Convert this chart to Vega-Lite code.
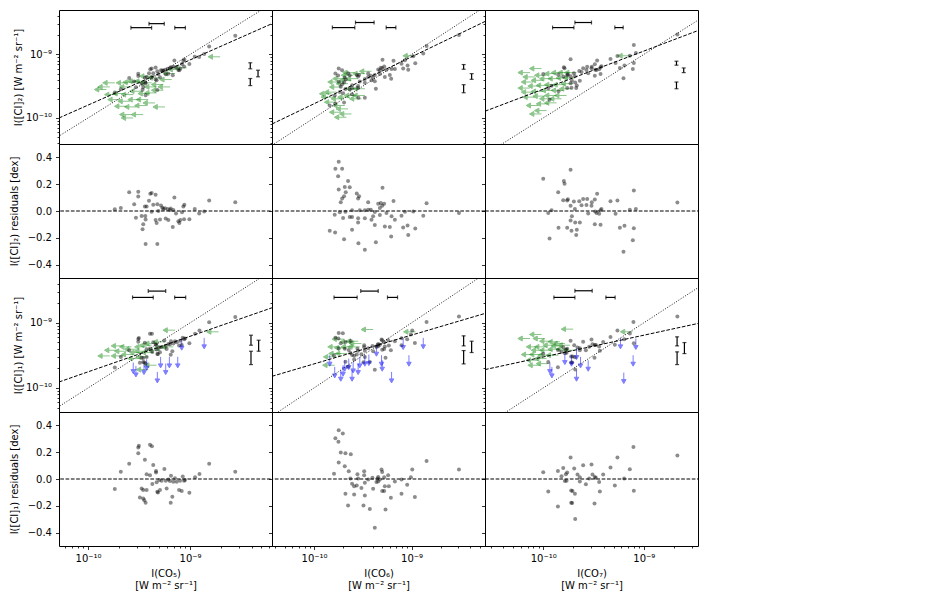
{
  "$schema": "https://vega.github.io/schema/vega-lite/v6.json",
  "background": "white",
  "padding": {"left": 8, "top": 9, "right": 0, "bottom": 0},
  "config": {
    "font": "DejaVu Sans",
    "view": {"stroke": "#000", "strokeWidth": 1},
    "axis": {"grid": false, "domain": false, "tickColor": "#000", "tickSize": 3.5, "tickWidth": 0.8, "labelColor": "#000", "labelFont": "DejaVu Sans", "labelFontSize": 10, "labelPadding": 4, "labelFlush": false, "labelOverlap": false, "titleColor": "#000", "titleFont": "DejaVu Sans", "titleFontSize": 10, "titleFontWeight": "normal"}
  },
  "datasets": {
    "one_to_one": [{"co": -11, "ci": -11}, {"co": -8, "ci": -8}],
    "zero": [{"co": -11, "res": 0}, {"co": -8, "res": 0}],
    "ci2_co5_fit": [{"co": -10.285, "ci": -10.0}, {"co": -8.197, "ci": -8.515}],
    "ci2_co6_fit": [{"co": -10.431, "ci": -10.095}, {"co": -8.247, "ci": -8.481}],
    "ci2_co7_fit": [{"co": -10.579, "ci": -9.894}, {"co": -8.461, "ci": -8.624}],
    "ci1_co5_fit": [{"co": -10.285, "ci": -9.908}, {"co": -8.197, "ci": -8.769}],
    "ci1_co6_fit": [{"co": -10.431, "ci": -9.821}, {"co": -8.247, "ci": -8.856}],
    "ci1_co7_fit": [{"co": -10.579, "ci": -9.718}, {"co": -8.461, "ci": -9.01}],
    "ci2_co5_xerr": [{"co": -9.58, "co_end": -9.377, "ci": -8.578}, {"co": -9.403, "co_end": -9.253, "ci": -8.515}, {"co": -9.15, "co_end": -9.046, "ci": -8.578}],
    "ci2_co5_yerr": [{"co": -8.41, "ci": -9.131, "ci_end": -9.226}, {"co": -8.334, "ci": -9.248, "ci_end": -9.352}, {"co": -8.41, "ci": -9.379, "ci_end": -9.49}],
    "ci2_co6_xerr": [{"co": -9.812, "co_end": -9.582, "ci": -8.577}, {"co": -9.575, "co_end": -9.384, "ci": -8.497}, {"co": -9.26, "co_end": -9.161, "ci": -8.577}],
    "ci2_co6_yerr": [{"co": -8.466, "ci": -9.159, "ci_end": -9.233}, {"co": -8.384, "ci": -9.302, "ci_end": -9.392}, {"co": -8.466, "ci": -9.476, "ci_end": -9.603}],
    "ci2_co7_xerr": [{"co": -9.907, "co_end": -9.695, "ci": -8.577}, {"co": -9.685, "co_end": -9.52, "ci": -8.497}, {"co": -9.288, "co_end": -9.205, "ci": -8.577}],
    "ci2_co7_yerr": [{"co": -8.675, "ci": -9.106, "ci_end": -9.169}, {"co": -8.603, "ci": -9.212, "ci_end": -9.286}, {"co": -8.675, "ci": -9.434, "ci_end": -9.54}],
    "ci1_co5_xerr": [{"co": -9.564, "co_end": -9.361, "ci": -8.61}, {"co": -9.41, "co_end": -9.239, "ci": -8.513}, {"co": -9.151, "co_end": -9.043, "ci": -8.61}],
    "ci1_co5_yerr": [{"co": -8.403, "ci": -9.19, "ci_end": -9.344}, {"co": -8.328, "ci": -9.267, "ci_end": -9.436}, {"co": -8.403, "ci": -9.436, "ci_end": -9.641}],
    "ci1_co6_xerr": [{"co": -9.795, "co_end": -9.558, "ci": -8.61}, {"co": -9.521, "co_end": -9.342, "ci": -8.513}, {"co": -9.247, "co_end": -9.144, "ci": -8.61}],
    "ci1_co6_yerr": [{"co": -8.466, "ci": -9.2, "ci_end": -9.354}, {"co": -8.384, "ci": -9.282, "ci_end": -9.456}, {"co": -8.466, "ci": -9.426, "ci_end": -9.631}],
    "ci1_co7_xerr": [{"co": -9.894, "co_end": -9.685, "ci": -8.61}, {"co": -9.685, "co_end": -9.513, "ci": -8.508}, {"co": -9.377, "co_end": -9.285, "ci": -8.61}],
    "ci1_co7_yerr": [{"co": -8.669, "ci": -9.215, "ci_end": -9.354}, {"co": -8.596, "ci": -9.303, "ci_end": -9.472}, {"co": -8.669, "ci": -9.446, "ci_end": -9.641}],
    "ci2_co5_det": [{"co":-9.738,"ci":-9.598},{"co":-9.679,"ci":-9.546},{"co":-9.597,"ci":-9.371},{"co":-9.548,"ci":-9.425},{"co":-9.531,"ci":-9.515},{"co":-9.508,"ci":-9.303},{"co":-9.508,"ci":-9.338},{"co":-9.475,"ci":-9.462},{"co":-9.466,"ci":-9.554},{"co":-9.459,"ci":-9.511},{"co":-9.443,"ci":-9.368},{"co":-9.439,"ci":-9.436},{"co":-9.436,"ci":-9.459},{"co":-9.436,"ci":-9.642},{"co":-9.426,"ci":-9.356},{"co":-9.403,"ci":-9.297},{"co":-9.39,"ci":-9.234},{"co":-9.377,"ci":-9.22},{"co":-9.377,"ci":-9.359},{"co":-9.361,"ci":-9.297},{"co":-9.338,"ci":-9.204},{"co":-9.338,"ci":-9.394},{"co":-9.328,"ci":-9.408},{"co":-9.321,"ci":-9.263},{"co":-9.321,"ci":-9.56},{"co":-9.311,"ci":-9.307},{"co":-9.295,"ci":-9.359},{"co":-9.285,"ci":-9.248},{"co":-9.272,"ci":-9.254},{"co":-9.262,"ci":-9.257},{"co":-9.246,"ci":-9.241},{"co":-9.239,"ci":-9.312},{"co":-9.22,"ci":-9.227},{"co":-9.213,"ci":-9.305},{"co":-9.197,"ci":-9.218},{"co":-9.19,"ci":-9.203},{"co":-9.17,"ci":-9.326},{"co":-9.164,"ci":-9.195},{"co":-9.154,"ci":-9.094},{"co":-9.138,"ci":-9.202},{"co":-9.115,"ci":-9.244},{"co":-9.105,"ci":-9.25},{"co":-9.095,"ci":-9.222},{"co":-9.079,"ci":-9.152},{"co":-9.066,"ci":-9.1},{"co":-9.059,"ci":-9.189},{"co":-9.056,"ci":-9.08},{"co":-9.007,"ci":-9.152},{"co":-8.954,"ci":-9.038},{"co":-8.911,"ci":-9.041},{"co":-8.862,"ci":-8.991},{"co":-8.813,"ci":-8.875},{"co":-8.557,"ci":-8.705}],
    "ci2_co5_res": [{"co":-9.738,"res":0.013},{"co":-9.679,"res":0.023},{"co":-9.597,"res":0.139},{"co":-9.548,"res":0.051},{"co":-9.531,"res":-0.051},{"co":-9.508,"res":0.144},{"co":-9.508,"res":0.109},{"co":-9.475,"res":-0.038},{"co":-9.466,"res":-0.137},{"co":-9.459,"res":-0.099},{"co":-9.443,"res":0.033},{"co":-9.439,"res":-0.038},{"co":-9.436,"res":-0.063},{"co":-9.436,"res":-0.246},{"co":-9.426,"res":0.033},{"co":-9.403,"res":0.076},{"co":-9.39,"res":0.129},{"co":-9.377,"res":0.134},{"co":-9.377,"res":-0.005},{"co":-9.361,"res":0.046},{"co":-9.338,"res":0.122},{"co":-9.338,"res":-0.068},{"co":-9.328,"res":-0.089},{"co":-9.321,"res":0.051},{"co":-9.321,"res":-0.246},{"co":-9.311,"res":0},{"co":-9.295,"res":-0.063},{"co":-9.285,"res":0.041},{"co":-9.272,"res":0.025},{"co":-9.262,"res":0.015},{"co":-9.246,"res":0.02},{"co":-9.239,"res":-0.056},{"co":-9.22,"res":0.015},{"co":-9.213,"res":-0.068},{"co":-9.197,"res":0.008},{"co":-9.19,"res":0.018},{"co":-9.17,"res":-0.119},{"co":-9.164,"res":0.008},{"co":-9.154,"res":0.101},{"co":-9.138,"res":-0.018},{"co":-9.115,"res":-0.076},{"co":-9.105,"res":-0.089},{"co":-9.095,"res":-0.068},{"co":-9.079,"res":-0.01},{"co":-9.066,"res":0.033},{"co":-9.059,"res":-0.061},{"co":-9.056,"res":0.046},{"co":-9.007,"res":-0.061},{"co":-8.954,"res":0.015},{"co":-8.911,"res":-0.018},{"co":-8.862,"res":-0.003},{"co":-8.813,"res":0.078},{"co":-8.557,"res":0.066}],
    "ci2_co5_xlim": [{"co":-9.82,"ci":-9.553},{"co":-9.738,"ci":-9.447},{"co":-9.607,"ci":-9.447},{"co":-9.574,"ci":-9.511},{"co":-9.541,"ci":-9.437},{"co":-9.492,"ci":-9.421},{"co":-9.426,"ci":-9.421},{"co":-9.377,"ci":-9.447},{"co":-9.328,"ci":-9.511},{"co":-9.262,"ci":-9.474},{"co":-9.197,"ci":-9.511},{"co":-9.18,"ci":-9.395},{"co":-9.148,"ci":-9.3},{"co":-9.721,"ci":-9.632},{"co":-9.639,"ci":-9.616},{"co":-9.557,"ci":-9.632},{"co":-9.475,"ci":-9.579},{"co":-9.393,"ci":-9.616},{"co":-9.328,"ci":-9.605},{"co":-9.262,"ci":-9.563},{"co":-9.689,"ci":-9.711},{"co":-9.59,"ci":-9.737},{"co":-9.492,"ci":-9.711},{"co":-9.41,"ci":-9.711},{"co":-9.623,"ci":-9.816},{"co":-9.525,"ci":-9.826},{"co":-9.426,"ci":-9.805},{"co":-9.344,"ci":-9.763},{"co":-9.246,"ci":-9.826},{"co":-9.574,"ci":-9.947},{"co":-9.459,"ci":-9.947},{"co":-9.557,"ci":-10.0},{"co":-8.705,"ci":-9.037},{"co":-9.098,"ci":-9.237},{"co":-9.033,"ci":-9.211},{"co":-9.787,"ci":-9.511},{"co":-9.377,"ci":-9.342},{"co":-9.295,"ci":-9.368}],
    "ci2_co6_det": [{"co":-9.747,"ci":-9.221},{"co":-9.781,"ci":-9.299},{"co":-9.712,"ci":-9.248},{"co":-9.753,"ci":-9.333},{"co":-9.651,"ci":-9.295},{"co":-9.685,"ci":-9.363},{"co":-9.634,"ci":-9.327},{"co":-9.747,"ci":-9.429},{"co":-9.675,"ci":-9.396},{"co":-9.562,"ci":-9.322},{"co":-9.538,"ci":-9.325},{"co":-9.692,"ci":-9.438},{"co":-9.726,"ci":-9.509},{"co":-9.712,"ci":-9.47},{"co":-9.548,"ci":-9.349},{"co":-9.445,"ci":-9.301},{"co":-9.298,"ci":-9.084},{"co":-9.185,"ci":-9.099},{"co":-9.315,"ci":-9.21},{"co":-9.342,"ci":-9.235},{"co":-9.325,"ci":-9.254},{"co":-9.301,"ci":-9.219},{"co":-9.281,"ci":-9.19},{"co":-8.846,"ci":-8.865},{"co":-9.788,"ci":-9.647},{"co":-9.736,"ci":-9.591},{"co":-9.678,"ci":-9.543},{"co":-9.61,"ci":-9.483},{"co":-9.531,"ci":-9.424},{"co":-9.479,"ci":-9.386},{"co":-9.418,"ci":-9.336},{"co":-9.377,"ci":-9.324},{"co":-9.61,"ci":-9.533},{"co":-9.634,"ci":-9.55},{"co":-9.702,"ci":-9.609},{"co":-9.548,"ci":-9.497},{"co":-9.479,"ci":-9.446},{"co":-9.394,"ci":-9.368},{"co":-9.325,"ci":-9.307},{"co":-9.257,"ci":-9.242},{"co":-9.205,"ci":-9.228},{"co":-9.103,"ci":-9.148},{"co":-9.171,"ci":-9.228},{"co":-9.068,"ci":-9.092},{"co":-8.983,"ci":-9.027},{"co":-8.88,"ci":-8.983},{"co":-8.514,"ci":-8.693},{"co":-9.839,"ci":-9.805},{"co":-9.784,"ci":-9.776},{"co":-9.692,"ci":-9.758},{"co":-9.61,"ci":-9.628},{"co":-9.545,"ci":-9.68},{"co":-9.479,"ci":-9.681},{"co":-9.366,"ci":-9.54},{"co":-9.377,"ci":-9.421},{"co":-9.274,"ci":-9.354},{"co":-9.209,"ci":-9.381},{"co":-9.223,"ci":-9.322},{"co":-9.086,"ci":-9.223},{"co":-9.041,"ci":-9.175},{"co":-8.962,"ci":-9.139},{"co":-9.034,"ci":-9.242},{"co":-9.445,"ci":-9.356},{"co":-9.411,"ci":-9.406},{"co":-9.548,"ci":-9.527}],
    "ci2_co6_res": [{"co":-9.747,"res":0.368},{"co":-9.781,"res":0.315},{"co":-9.712,"res":0.315},{"co":-9.753,"res":0.26},{"co":-9.651,"res":0.223},{"co":-9.685,"res":0.18},{"co":-9.634,"res":0.178},{"co":-9.747,"res":0.16},{"co":-9.675,"res":0.14},{"co":-9.562,"res":0.13},{"co":-9.538,"res":0.11},{"co":-9.692,"res":0.11},{"co":-9.726,"res":0.065},{"co":-9.712,"res":0.093},{"co":-9.548,"res":0.093},{"co":-9.445,"res":0.065},{"co":-9.298,"res":0.173},{"co":-9.185,"res":0.075},{"co":-9.315,"res":0.06},{"co":-9.342,"res":0.055},{"co":-9.325,"res":0.023},{"co":-9.301,"res":0.04},{"co":-9.281,"res":0.055},{"co":-8.846,"res":0.058},{"co":-9.788,"res":-0.028},{"co":-9.736,"res":-0.01},{"co":-9.678,"res":-0.005},{"co":-9.61,"res":0.005},{"co":-9.531,"res":0.005},{"co":-9.479,"res":0.005},{"co":-9.418,"res":0.01},{"co":-9.377,"res":-0.008},{"co":-9.61,"res":-0.045},{"co":-9.634,"res":-0.045},{"co":-9.702,"res":-0.053},{"co":-9.548,"res":-0.055},{"co":-9.479,"res":-0.055},{"co":-9.394,"res":-0.04},{"co":-9.325,"res":-0.03},{"co":-9.257,"res":-0.015},{"co":-9.205,"res":-0.04},{"co":-9.103,"res":-0.035},{"co":-9.171,"res":-0.065},{"co":-9.068,"res":-0.005},{"co":-8.983,"res":-0.003},{"co":-8.88,"res":-0.035},{"co":-8.514,"res":-0.015},{"co":-9.839,"res":-0.148},{"co":-9.784,"res":-0.16},{"co":-9.692,"res":-0.21},{"co":-9.61,"res":-0.14},{"co":-9.545,"res":-0.24},{"co":-9.479,"res":-0.29},{"co":-9.366,"res":-0.233},{"co":-9.377,"res":-0.105},{"co":-9.274,"res":-0.115},{"co":-9.209,"res":-0.19},{"co":-9.223,"res":-0.12},{"co":-9.086,"res":-0.123},{"co":-9.041,"res":-0.108},{"co":-8.962,"res":-0.13},{"co":-9.034,"res":-0.18},{"co":-9.445,"res":0.01},{"co":-9.411,"res":-0.065},{"co":-9.548,"res":-0.085}],
    "ci2_co6_xlim": [{"co":-9.822,"ci":-9.619},{"co":-9.771,"ci":-9.593},{"co":-9.719,"ci":-9.513},{"co":-9.651,"ci":-9.46},{"co":-9.616,"ci":-9.407},{"co":-9.548,"ci":-9.381},{"co":-9.479,"ci":-9.302},{"co":-9.411,"ci":-9.265},{"co":-9.702,"ci":-9.698},{"co":-9.634,"ci":-9.672},{"co":-9.565,"ci":-9.646},{"co":-9.479,"ci":-9.646},{"co":-9.771,"ci":-9.751},{"co":-9.685,"ci":-9.804},{"co":-9.651,"ci":-9.857},{"co":-9.616,"ci":-9.937},{"co":-9.719,"ci":-9.91},{"co":-9.668,"ci":-9.989},{"co":-9.548,"ci":-9.54},{"co":-9.479,"ci":-9.54},{"co":-9.685,"ci":-9.381},{"co":-9.599,"ci":-9.328},{"co":-9.805,"ci":-9.672},{"co":-8.966,"ci":-9.021},{"co":-9.736,"ci":-9.434},{"co":-9.582,"ci":-9.286},{"co":-9.514,"ci":-9.698}],
    "ci2_co7_det": [{"co":-10.0,"ci":-9.307},{"co":-9.728,"ci":-9.076},{"co":-9.795,"ci":-9.201},{"co":-9.788,"ci":-9.217},{"co":-9.851,"ci":-9.318},{"co":-9.801,"ci":-9.348},{"co":-9.762,"ci":-9.326},{"co":-9.755,"ci":-9.312},{"co":-9.695,"ci":-9.294},{"co":-9.728,"ci":-9.344},{"co":-9.642,"ci":-9.259},{"co":-9.603,"ci":-9.219},{"co":-9.563,"ci":-9.195},{"co":-9.619,"ci":-9.275},{"co":-9.57,"ci":-9.244},{"co":-9.517,"ci":-9.192},{"co":-9.487,"ci":-9.154},{"co":-9.464,"ci":-9.097},{"co":-9.52,"ci":-9.219},{"co":-9.483,"ci":-9.24},{"co":-9.47,"ci":-9.244},{"co":-9.444,"ci":-9.233},{"co":-9.43,"ci":-9.2},{"co":-9.421,"ci":-9.185},{"co":-9.553,"ci":-9.297},{"co":-9.331,"ci":-9.073},{"co":-9.262,"ci":-9.026},{"co":-9.281,"ci":-9.136},{"co":-9.139,"ci":-9.02},{"co":-9.099,"ci":-8.853},{"co":-9.079,"ci":-8.979},{"co":-8.666,"ci":-8.684},{"co":-9.95,"ci":-9.532},{"co":-9.917,"ci":-9.492},{"co":-9.685,"ci":-9.343},{"co":-9.715,"ci":-9.416},{"co":-9.728,"ci":-9.454},{"co":-9.682,"ci":-9.441},{"co":-9.636,"ci":-9.414},{"co":-9.719,"ci":-9.526},{"co":-9.666,"ci":-9.487},{"co":-9.672,"ci":-9.53},{"co":-9.762,"ci":-9.529},{"co":-9.848,"ci":-9.581},{"co":-9.937,"ci":-9.714},{"co":-9.487,"ci":-9.337},{"co":-9.43,"ci":-9.308},{"co":-9.238,"ci":-9.215},{"co":-9.192,"ci":-9.172},{"co":-9.099,"ci":-9.134},{"co":-9.109,"ci":-9.23},{"co":-9.202,"ci":-9.373}],
    "ci2_co7_res": [{"co":-10.0,"res":0.24},{"co":-9.728,"res":0.308},{"co":-9.795,"res":0.223},{"co":-9.788,"res":0.203},{"co":-9.851,"res":0.14},{"co":-9.801,"res":0.08},{"co":-9.762,"res":0.078},{"co":-9.755,"res":0.088},{"co":-9.695,"res":0.07},{"co":-9.728,"res":0.04},{"co":-9.642,"res":0.073},{"co":-9.603,"res":0.09},{"co":-9.563,"res":0.09},{"co":-9.619,"res":0.043},{"co":-9.57,"res":0.045},{"co":-9.517,"res":0.065},{"co":-9.487,"res":0.085},{"co":-9.464,"res":0.128},{"co":-9.52,"res":0.04},{"co":-9.483,"res":-0.003},{"co":-9.47,"res":-0.015},{"co":-9.444,"res":-0.02},{"co":-9.43,"res":0.005},{"co":-9.421,"res":0.015},{"co":-9.553,"res":-0.018},{"co":-9.331,"res":0.073},{"co":-9.262,"res":0.078},{"co":-9.281,"res":-0.02},{"co":-9.139,"res":0.01},{"co":-9.099,"res":0.153},{"co":-9.079,"res":0.015},{"co":-8.666,"res":0.063},{"co":-9.95,"res":-0.015},{"co":-9.917,"res":0.005},{"co":-9.685,"res":0.015},{"co":-9.715,"res":-0.04},{"co":-9.728,"res":-0.07},{"co":-9.682,"res":-0.085},{"co":-9.636,"res":-0.085},{"co":-9.719,"res":-0.148},{"co":-9.666,"res":-0.14},{"co":-9.672,"res":-0.18},{"co":-9.762,"res":-0.125},{"co":-9.848,"res":-0.125},{"co":-9.937,"res":-0.205},{"co":-9.487,"res":-0.098},{"co":-9.43,"res":-0.103},{"co":-9.238,"res":-0.125},{"co":-9.192,"res":-0.11},{"co":-9.099,"res":-0.128},{"co":-9.109,"res":-0.218},{"co":-9.202,"res":-0.305}],
    "ci2_co7_xlim": [{"co":-10.132,"ci":-9.286},{"co":-10.017,"ci":-9.222},{"co":-10.083,"ci":-9.354},{"co":-9.967,"ci":-9.328},{"co":-9.868,"ci":-9.302},{"co":-9.801,"ci":-9.286},{"co":-9.735,"ci":-9.286},{"co":-9.669,"ci":-9.286},{"co":-10.099,"ci":-9.434},{"co":-10.0,"ci":-9.407},{"co":-9.917,"ci":-9.381},{"co":-9.834,"ci":-9.381},{"co":-9.752,"ci":-9.37},{"co":-9.685,"ci":-9.37},{"co":-10.132,"ci":-9.529},{"co":-10.033,"ci":-9.497},{"co":-9.95,"ci":-9.487},{"co":-9.868,"ci":-9.476},{"co":-9.785,"ci":-9.476},{"co":-9.702,"ci":-9.46},{"co":-10.099,"ci":-9.593},{"co":-10.0,"ci":-9.582},{"co":-9.901,"ci":-9.566},{"co":-9.801,"ci":-9.566},{"co":-9.719,"ci":-9.54},{"co":-10.083,"ci":-9.672},{"co":-9.983,"ci":-9.656},{"co":-9.868,"ci":-9.646},{"co":-9.768,"ci":-9.646},{"co":-10.05,"ci":-9.804},{"co":-9.95,"ci":-9.778},{"co":-9.868,"ci":-9.762},{"co":-10.017,"ci":-9.937},{"co":-9.967,"ci":-9.884},{"co":-9.139,"ci":-9.021},{"co":-9.917,"ci":-9.698},{"co":-9.818,"ci":-9.698}],
    "ci1_co5_det": [{"co":-9.738,"ci":-9.685},{"co":-9.679,"ci":-9.523},{"co":-9.597,"ci":-9.42},{"co":-9.508,"ci":-9.292},{"co":-9.508,"ci":-9.25},{"co":-9.502,"ci":-9.233},{"co":-9.393,"ci":-9.167},{"co":-9.374,"ci":-9.167},{"co":-9.443,"ci":-9.306},{"co":-9.426,"ci":-9.405},{"co":-9.393,"ci":-9.394},{"co":-9.361,"ci":-9.299},{"co":-9.334,"ci":-9.33},{"co":-9.334,"ci":-9.342},{"co":-9.252,"ci":-9.27},{"co":-9.37,"ci":-9.447},{"co":-9.328,"ci":-9.411},{"co":-9.302,"ci":-9.38},{"co":-9.279,"ci":-9.373},{"co":-9.239,"ci":-9.351},{"co":-9.213,"ci":-9.327},{"co":-9.197,"ci":-9.33},{"co":-9.187,"ci":-9.284},{"co":-9.164,"ci":-9.317},{"co":-9.148,"ci":-9.283},{"co":-9.131,"ci":-9.299},{"co":-9.098,"ci":-9.274},{"co":-9.072,"ci":-9.229},{"co":-9.059,"ci":-9.253},{"co":-9.295,"ci":-9.451},{"co":-9.23,"ci":-9.403},{"co":-9.475,"ci":-9.537},{"co":-9.459,"ci":-9.541},{"co":-9.426,"ci":-9.523},{"co":-9.459,"ci":-9.603},{"co":-9.449,"ci":-9.61},{"co":-9.436,"ci":-9.623},{"co":-9.321,"ci":-9.478},{"co":-9.315,"ci":-9.479},{"co":-9.19,"ci":-9.489},{"co":-9.174,"ci":-9.435},{"co":-9.108,"ci":-9.349},{"co":-9.082,"ci":-9.342},{"co":-9.007,"ci":-9.314},{"co":-8.951,"ci":-9.168},{"co":-8.908,"ci":-9.119},{"co":-8.813,"ci":-8.992},{"co":-8.557,"ci":-8.911},{"co":-9.049,"ci":-9.242},{"co":-9.492,"ci":-9.614}],
    "ci1_co5_res": [{"co":-9.738,"res":-0.075},{"co":-9.679,"res":0.055},{"co":-9.597,"res":0.113},{"co":-9.508,"res":0.193},{"co":-9.508,"res":0.235},{"co":-9.502,"res":0.248},{"co":-9.393,"res":0.255},{"co":-9.374,"res":0.245},{"co":-9.443,"res":0.143},{"co":-9.426,"res":0.035},{"co":-9.393,"res":0.028},{"co":-9.361,"res":0.105},{"co":-9.334,"res":0.06},{"co":-9.334,"res":0.048},{"co":-9.252,"res":0.075},{"co":-9.37,"res":-0.038},{"co":-9.328,"res":-0.025},{"co":-9.302,"res":-0.008},{"co":-9.279,"res":-0.013},{"co":-9.239,"res":-0.013},{"co":-9.213,"res":-0.003},{"co":-9.197,"res":-0.015},{"co":-9.187,"res":0.025},{"co":-9.164,"res":-0.02},{"co":-9.148,"res":0.005},{"co":-9.131,"res":-0.02},{"co":-9.098,"res":-0.013},{"co":-9.072,"res":0.018},{"co":-9.059,"res":-0.013},{"co":-9.295,"res":-0.083},{"co":-9.23,"res":-0.07},{"co":-9.475,"res":-0.07},{"co":-9.459,"res":-0.083},{"co":-9.426,"res":-0.083},{"co":-9.459,"res":-0.145},{"co":-9.449,"res":-0.158},{"co":-9.436,"res":-0.178},{"co":-9.321,"res":-0.095},{"co":-9.315,"res":-0.1},{"co":-9.19,"res":-0.178},{"co":-9.174,"res":-0.133},{"co":-9.108,"res":-0.083},{"co":-9.082,"res":-0.09},{"co":-9.007,"res":-0.103},{"co":-8.951,"res":0.013},{"co":-8.908,"res":0.038},{"co":-8.813,"res":0.113},{"co":-8.557,"res":0.055},{"co":-9.049,"res":-0.008},{"co":-9.492,"res":-0.138}],
    "ci1_co5_xlim": [{"co":-9.787,"ci":-9.508},{"co":-9.656,"ci":-9.508},{"co":-9.623,"ci":-9.436},{"co":-9.574,"ci":-9.369},{"co":-9.525,"ci":-9.405},{"co":-9.475,"ci":-9.456},{"co":-9.426,"ci":-9.369},{"co":-9.377,"ci":-9.344},{"co":-9.328,"ci":-9.318},{"co":-9.295,"ci":-9.421},{"co":-9.23,"ci":-9.385},{"co":-9.164,"ci":-9.369},{"co":-9.148,"ci":-9.113},{"co":-8.721,"ci":-9.138},{"co":-9.492,"ci":-9.549},{"co":-9.41,"ci":-9.523},{"co":-9.361,"ci":-9.456},{"co":-9.721,"ci":-9.421},{"co":-9.656,"ci":-9.354},{"co":-9.41,"ci":-9.718},{"co":-9.328,"ci":-9.651},{"co":-9.557,"ci":-9.487},{"co":-9.426,"ci":-9.436},{"co":-9.246,"ci":-9.292}],
    "ci1_co5_ylim": [{"co":-9.557,"ci":-9.61},{"co":-9.531,"ci":-9.662},{"co":-9.452,"ci":-9.626},{"co":-9.426,"ci":-9.559},{"co":-9.321,"ci":-9.754},{"co":-9.289,"ci":-9.523},{"co":-9.239,"ci":-9.626},{"co":-9.203,"ci":-9.523},{"co":-9.121,"ci":-9.523},{"co":-9.082,"ci":-9.251},{"co":-8.862,"ci":-9.231}],
    "ci1_co6_det": [{"co":-9.747,"ci":-9.156},{"co":-9.705,"ci":-9.161},{"co":-9.781,"ci":-9.229},{"co":-9.75,"ci":-9.242},{"co":-9.726,"ci":-9.312},{"co":-9.678,"ci":-9.296},{"co":-9.623,"ci":-9.279},{"co":-9.747,"ci":-9.396},{"co":-9.685,"ci":-9.397},{"co":-9.644,"ci":-9.416},{"co":-9.795,"ci":-9.5},{"co":-9.627,"ci":-9.463},{"co":-9.486,"ci":-9.346},{"co":-9.555,"ci":-9.399},{"co":-9.486,"ci":-9.376},{"co":-9.445,"ci":-9.389},{"co":-9.401,"ci":-9.356},{"co":-9.349,"ci":-9.34},{"co":-9.308,"ci":-9.255},{"co":-9.301,"ci":-9.269},{"co":-9.342,"ci":-9.325},{"co":-9.36,"ci":-9.371},{"co":-9.325,"ci":-9.336},{"co":-9.281,"ci":-9.3},{"co":-9.24,"ci":-9.267},{"co":-9.171,"ci":-9.283},{"co":-9.103,"ci":-9.238},{"co":-9.045,"ci":-9.252},{"co":-9.007,"ci":-9.179},{"co":-8.993,"ci":-9.116},{"co":-8.846,"ci":-8.986},{"co":-8.514,"ci":-8.904},{"co":-9.61,"ci":-9.494},{"co":-9.589,"ci":-9.504},{"co":-9.678,"ci":-9.599},{"co":-9.589,"ci":-9.564},{"co":-9.514,"ci":-9.484},{"co":-9.479,"ci":-9.429},{"co":-9.548,"ci":-9.428},{"co":-9.651,"ci":-9.675},{"co":-9.493,"ci":-9.605},{"co":-9.428,"ci":-9.601},{"co":-9.342,"ci":-9.358},{"co":-9.301,"ci":-9.412},{"co":-9.281,"ci":-9.403},{"co":-9.212,"ci":-9.423},{"co":-9.274,"ci":-9.365},{"co":-9.233,"ci":-9.347},{"co":-9.103,"ci":-9.345},{"co":-8.966,"ci":-9.309},{"co":-9.267,"ci":-9.535},{"co":-9.377,"ci":-9.719},{"co":-9.562,"ci":-9.485},{"co":-9.479,"ci":-9.524},{"co":-9.394,"ci":-9.436}],
    "ci1_co6_res": [{"co":-9.747,"res":0.363},{"co":-9.705,"res":0.34},{"co":-9.781,"res":0.305},{"co":-9.75,"res":0.278},{"co":-9.726,"res":0.198},{"co":-9.678,"res":0.193},{"co":-9.623,"res":0.185},{"co":-9.747,"res":0.123},{"co":-9.685,"res":0.095},{"co":-9.644,"res":0.058},{"co":-9.795,"res":0.04},{"co":-9.627,"res":0.003},{"co":-9.486,"res":0.058},{"co":-9.555,"res":0.035},{"co":-9.486,"res":0.028},{"co":-9.445,"res":-0.003},{"co":-9.401,"res":0.01},{"co":-9.349,"res":0.003},{"co":-9.308,"res":0.07},{"co":-9.301,"res":0.053},{"co":-9.342,"res":0.015},{"co":-9.36,"res":-0.023},{"co":-9.325,"res":-0.003},{"co":-9.281,"res":0.013},{"co":-9.24,"res":0.028},{"co":-9.171,"res":-0.018},{"co":-9.103,"res":-0.003},{"co":-9.045,"res":-0.043},{"co":-9.007,"res":0.013},{"co":-8.993,"res":0.07},{"co":-8.846,"res":0.135},{"co":-8.514,"res":0.07},{"co":-9.61,"res":-0.035},{"co":-9.589,"res":-0.055},{"co":-9.678,"res":-0.11},{"co":-9.589,"res":-0.115},{"co":-9.514,"res":-0.068},{"co":-9.479,"res":-0.028},{"co":-9.548,"res":0.003},{"co":-9.651,"res":-0.198},{"co":-9.493,"res":-0.198},{"co":-9.428,"res":-0.223},{"co":-9.342,"res":-0.018},{"co":-9.301,"res":-0.09},{"co":-9.281,"res":-0.09},{"co":-9.212,"res":-0.14},{"co":-9.274,"res":-0.055},{"co":-9.233,"res":-0.055},{"co":-9.103,"res":-0.11},{"co":-8.966,"res":-0.135},{"co":-9.267,"res":-0.228},{"co":-9.377,"res":-0.363},{"co":-9.562,"res":-0.048},{"co":-9.479,"res":-0.123},{"co":-9.394,"res":-0.073}],
    "ci1_co6_xlim": [{"co":-9.394,"ci":-9.103},{"co":-9.781,"ci":-9.523},{"co":-9.726,"ci":-9.472},{"co":-9.736,"ci":-9.369},{"co":-9.668,"ci":-9.385},{"co":-9.61,"ci":-9.292},{"co":-9.548,"ci":-9.282},{"co":-9.599,"ci":-9.369},{"co":-9.531,"ci":-9.369},{"co":-9.788,"ci":-9.651},{"co":-8.959,"ci":-9.138},{"co":-9.658,"ci":-9.472},{"co":-9.692,"ci":-9.251},{"co":-9.514,"ci":-9.318}],
    "ci1_co6_ylim": [{"co":-9.839,"ci":-9.497},{"co":-9.788,"ci":-9.677},{"co":-9.726,"ci":-9.728},{"co":-9.685,"ci":-9.574},{"co":-9.644,"ci":-9.549},{"co":-9.61,"ci":-9.728},{"co":-9.599,"ci":-9.6},{"co":-9.548,"ci":-9.626},{"co":-9.531,"ci":-9.523},{"co":-9.479,"ci":-9.497},{"co":-9.438,"ci":-9.487},{"co":-9.36,"ci":-9.344},{"co":-9.308,"ci":-9.497},{"co":-9.301,"ci":-9.574},{"co":-9.205,"ci":-9.754},{"co":-9.086,"ci":-9.241},{"co":-9.027,"ci":-9.497},{"co":-8.88,"ci":-9.231},{"co":-9.702,"ci":-9.651}],
    "ci1_co7_det": [{"co":-10.0,"ci":-9.475},{"co":-9.95,"ci":-9.601},{"co":-9.854,"ci":-9.681},{"co":-9.854,"ci":-9.416},{"co":-9.801,"ci":-9.376},{"co":-9.818,"ci":-9.444},{"co":-9.775,"ci":-9.415},{"co":-9.762,"ci":-9.398},{"co":-9.785,"ci":-9.468},{"co":-9.728,"ci":-9.274},{"co":-9.722,"ci":-9.517},{"co":-9.722,"ci":-9.61},{"co":-9.712,"ci":-9.609},{"co":-9.692,"ci":-9.344},{"co":-9.685,"ci":-9.53},{"co":-9.659,"ci":-9.378},{"co":-9.636,"ci":-9.421},{"co":-9.603,"ci":-9.289},{"co":-9.576,"ci":-9.423},{"co":-9.52,"ci":-9.257},{"co":-9.51,"ci":-9.328},{"co":-9.487,"ci":-9.339},{"co":-9.477,"ci":-9.34},{"co":-9.444,"ci":-9.362},{"co":-9.437,"ci":-9.43},{"co":-9.49,"ci":-9.538},{"co":-9.404,"ci":-9.293},{"co":-9.331,"ci":-9.217},{"co":-9.288,"ci":-9.335},{"co":-9.262,"ci":-9.119},{"co":-9.195,"ci":-9.253},{"co":-9.139,"ci":-9.164},{"co":-9.103,"ci":-8.987},{"co":-9.099,"ci":-9.312},{"co":-8.666,"ci":-8.904},{"co":-9.682,"ci":-9.717},{"co":-9.768,"ci":-9.461},{"co":-9.709,"ci":-9.518},{"co":-9.636,"ci":-9.39},{"co":-9.543,"ci":-9.369}],
    "ci1_co7_res": [{"co":-10.0,"res":0.05},{"co":-9.95,"res":-0.093},{"co":-9.854,"res":-0.205},{"co":-9.854,"res":0.06},{"co":-9.801,"res":0.083},{"co":-9.818,"res":0.02},{"co":-9.775,"res":0.035},{"co":-9.762,"res":0.048},{"co":-9.785,"res":-0.015},{"co":-9.728,"res":0.16},{"co":-9.722,"res":-0.085},{"co":-9.722,"res":-0.178},{"co":-9.712,"res":-0.18},{"co":-9.692,"res":0.078},{"co":-9.685,"res":-0.11},{"co":-9.659,"res":0.033},{"co":-9.636,"res":-0.018},{"co":-9.603,"res":0.103},{"co":-9.576,"res":-0.04},{"co":-9.52,"res":0.108},{"co":-9.51,"res":0.033},{"co":-9.487,"res":0.015},{"co":-9.477,"res":0.01},{"co":-9.444,"res":-0.023},{"co":-9.437,"res":-0.093},{"co":-9.49,"res":-0.183},{"co":-9.404,"res":0.033},{"co":-9.331,"res":0.085},{"co":-9.288,"res":-0.048},{"co":-9.262,"res":0.16},{"co":-9.195,"res":0.003},{"co":-9.139,"res":0.073},{"co":-9.103,"res":0.238},{"co":-9.099,"res":-0.088},{"co":-8.666,"res":0.175},{"co":-9.682,"res":-0.298},{"co":-9.768,"res":-0.013},{"co":-9.709,"res":-0.09},{"co":-9.636,"res":0.013},{"co":-9.543,"res":0.003}],
    "ci1_co7_xlim": [{"co":-10.132,"ci":-9.241},{"co":-10.017,"ci":-9.179},{"co":-9.983,"ci":-9.241},{"co":-9.917,"ci":-9.282},{"co":-9.834,"ci":-9.292},{"co":-9.785,"ci":-9.318},{"co":-10.05,"ci":-9.369},{"co":-9.967,"ci":-9.369},{"co":-9.884,"ci":-9.344},{"co":-9.801,"ci":-9.354},{"co":-9.735,"ci":-9.344},{"co":-10.0,"ci":-9.421},{"co":-9.917,"ci":-9.421},{"co":-9.834,"ci":-9.405},{"co":-9.752,"ci":-9.405},{"co":-10.099,"ci":-9.487},{"co":-10.017,"ci":-9.487},{"co":-9.934,"ci":-9.497},{"co":-9.851,"ci":-9.497},{"co":-10.05,"ci":-9.574},{"co":-9.967,"ci":-9.549},{"co":-10.033,"ci":-9.651},{"co":-9.702,"ci":-9.097},{"co":-9.113,"ci":-9.138},{"co":-9.95,"ci":-9.626},{"co":-9.685,"ci":-9.421}],
    "ci1_co7_ylim": [{"co":-9.934,"ci":-9.61},{"co":-9.914,"ci":-9.677},{"co":-9.785,"ci":-9.472},{"co":-9.719,"ci":-9.497},{"co":-9.669,"ci":-9.395},{"co":-9.669,"ci":-9.728},{"co":-9.629,"ci":-9.523},{"co":-9.553,"ci":-9.574},{"co":-9.232,"ci":-9.231},{"co":-9.199,"ci":-9.764},{"co":-9.106,"ci":-9.497},{"co":-9.079,"ci":-9.241}]
  },
  "columns": 3,
  "spacing": 0,
  "bounds": "flush",
  "concat": [
    {
      "width": 213, "height": 134,
      "encoding": {
        "x": {"field": "co", "type": "quantitative", "scale": {"domain": [-10.285, -8.197], "nice": false, "zero": false}, "axis": null},
        "y": {"field": "ci", "type": "quantitative", "scale": {"domain": [-10.41, -8.3], "nice": false, "zero": false}, "axis": {"values": [-10.3979,-10.301,-10.2218,-10.1549,-10.0969,-10.0458,-10,-9.699,-9.5229,-9.3979,-9.301,-9.2218,-9.1549,-9.0969,-9.0458,-9,-8.699,-8.5229,-8.3979], "labelExpr": "datum.value == -10 ? '10⁻¹⁰' : datum.value == -9 ? '10⁻⁹' : ''", "tickSize": {"condition": {"test": "datum.value == -10 || datum.value == -9", "value": 3.5}, "value": 2}, "title": "I([CI]₂) [W m⁻² sr⁻¹]", "titlePadding": 2}}
      },
      "layer": [
        {"data": {"name": "ci2_co5_xlim"}, "mark": {"type": "point", "shape": "M0,0H-1.6M-2.2,0L-1.4,-0.45L-1.4,0.45Z", "filled": true, "size": 120, "fill": "#008000", "stroke": "#008000", "strokeWidth": 1, "opacity": 0.45}},
        {"data": {"name": "ci2_co5_det"}, "mark": {"type": "circle", "size": 16, "color": "#000", "opacity": 0.45}},
        {"data": {"name": "ci2_co5_fit"}, "mark": {"type": "line", "color": "#000", "strokeWidth": 1, "strokeDash": [3.7, 1.6], "clip": true}},
        {"data": {"name": "one_to_one"}, "mark": {"type": "line", "color": "#000", "strokeWidth": 0.9, "strokeDash": [1, 1.65], "clip": true}},
        {"data": {"name": "ci2_co5_xerr"}, "mark": {"type": "errorbar", "ticks": {"size": 4}, "color": "#000", "thickness": 1.2}, "encoding": {"x2": {"field": "co_end"}}},
        {"data": {"name": "ci2_co5_yerr"}, "mark": {"type": "errorbar", "ticks": {"size": 4}, "color": "#000", "thickness": 1.2}, "encoding": {"y2": {"field": "ci_end"}}}
      ]
    },
    {
      "width": 213, "height": 134,
      "encoding": {
        "x": {"field": "co", "type": "quantitative", "scale": {"domain": [-10.431, -8.247], "nice": false, "zero": false}, "axis": null},
        "y": {"field": "ci", "type": "quantitative", "scale": {"domain": [-10.41, -8.3], "nice": false, "zero": false}, "axis": {"values": [-10.3979,-10.301,-10.2218,-10.1549,-10.0969,-10.0458,-10,-9.699,-9.5229,-9.3979,-9.301,-9.2218,-9.1549,-9.0969,-9.0458,-9,-8.699,-8.5229,-8.3979], "labels": false, "tickSize": {"condition": {"test": "datum.value == -10 || datum.value == -9", "value": 3.5}, "value": 2}, "title": null}}
      },
      "layer": [
        {"data": {"name": "ci2_co6_xlim"}, "mark": {"type": "point", "shape": "M0,0H-1.6M-2.2,0L-1.4,-0.45L-1.4,0.45Z", "filled": true, "size": 120, "fill": "#008000", "stroke": "#008000", "strokeWidth": 1, "opacity": 0.45}},
        {"data": {"name": "ci2_co6_det"}, "mark": {"type": "circle", "size": 16, "color": "#000", "opacity": 0.45}},
        {"data": {"name": "ci2_co6_fit"}, "mark": {"type": "line", "color": "#000", "strokeWidth": 1, "strokeDash": [3.7, 1.6], "clip": true}},
        {"data": {"name": "one_to_one"}, "mark": {"type": "line", "color": "#000", "strokeWidth": 0.9, "strokeDash": [1, 1.65], "clip": true}},
        {"data": {"name": "ci2_co6_xerr"}, "mark": {"type": "errorbar", "ticks": {"size": 4}, "color": "#000", "thickness": 1.2}, "encoding": {"x2": {"field": "co_end"}}},
        {"data": {"name": "ci2_co6_yerr"}, "mark": {"type": "errorbar", "ticks": {"size": 4}, "color": "#000", "thickness": 1.2}, "encoding": {"y2": {"field": "ci_end"}}}
      ]
    },
    {
      "width": 213, "height": 134,
      "encoding": {
        "x": {"field": "co", "type": "quantitative", "scale": {"domain": [-10.579, -8.461], "nice": false, "zero": false}, "axis": null},
        "y": {"field": "ci", "type": "quantitative", "scale": {"domain": [-10.41, -8.3], "nice": false, "zero": false}, "axis": {"values": [-10.3979,-10.301,-10.2218,-10.1549,-10.0969,-10.0458,-10,-9.699,-9.5229,-9.3979,-9.301,-9.2218,-9.1549,-9.0969,-9.0458,-9,-8.699,-8.5229,-8.3979], "labels": false, "tickSize": {"condition": {"test": "datum.value == -10 || datum.value == -9", "value": 3.5}, "value": 2}, "title": null}}
      },
      "layer": [
        {"data": {"name": "ci2_co7_xlim"}, "mark": {"type": "point", "shape": "M0,0H-1.6M-2.2,0L-1.4,-0.45L-1.4,0.45Z", "filled": true, "size": 120, "fill": "#008000", "stroke": "#008000", "strokeWidth": 1, "opacity": 0.45}},
        {"data": {"name": "ci2_co7_det"}, "mark": {"type": "circle", "size": 16, "color": "#000", "opacity": 0.45}},
        {"data": {"name": "ci2_co7_fit"}, "mark": {"type": "line", "color": "#000", "strokeWidth": 1, "strokeDash": [3.7, 1.6], "clip": true}},
        {"data": {"name": "one_to_one"}, "mark": {"type": "line", "color": "#000", "strokeWidth": 0.9, "strokeDash": [1, 1.65], "clip": true}},
        {"data": {"name": "ci2_co7_xerr"}, "mark": {"type": "errorbar", "ticks": {"size": 4}, "color": "#000", "thickness": 1.2}, "encoding": {"x2": {"field": "co_end"}}},
        {"data": {"name": "ci2_co7_yerr"}, "mark": {"type": "errorbar", "ticks": {"size": 4}, "color": "#000", "thickness": 1.2}, "encoding": {"y2": {"field": "ci_end"}}}
      ]
    },
    {
      "width": 213, "height": 134,
      "encoding": {
        "x": {"field": "co", "type": "quantitative", "scale": {"domain": [-10.285, -8.197], "nice": false, "zero": false}, "axis": null},
        "y": {"field": "res", "type": "quantitative", "scale": {"domain": [-0.5, 0.5], "nice": false, "zero": false}, "axis": {"values": [-0.4, -0.2, 0, 0.2, 0.4], "format": ".1f", "title": "I([CI]₂) residuals [dex]", "titlePadding": 8}}
      },
      "layer": [
        {"data": {"name": "ci2_co5_res"}, "mark": {"type": "circle", "size": 16, "color": "#000", "opacity": 0.45}},
        {"data": {"name": "zero"}, "mark": {"type": "line", "color": "#000", "strokeWidth": 1, "strokeDash": [3.7, 1.6], "clip": true}}
      ]
    },
    {
      "width": 213, "height": 134,
      "encoding": {
        "x": {"field": "co", "type": "quantitative", "scale": {"domain": [-10.431, -8.247], "nice": false, "zero": false}, "axis": null},
        "y": {"field": "res", "type": "quantitative", "scale": {"domain": [-0.5, 0.5], "nice": false, "zero": false}, "axis": {"values": [-0.4, -0.2, 0, 0.2, 0.4], "labels": false, "title": null}}
      },
      "layer": [
        {"data": {"name": "ci2_co6_res"}, "mark": {"type": "circle", "size": 16, "color": "#000", "opacity": 0.45}},
        {"data": {"name": "zero"}, "mark": {"type": "line", "color": "#000", "strokeWidth": 1, "strokeDash": [3.7, 1.6], "clip": true}}
      ]
    },
    {
      "width": 213, "height": 134,
      "encoding": {
        "x": {"field": "co", "type": "quantitative", "scale": {"domain": [-10.579, -8.461], "nice": false, "zero": false}, "axis": null},
        "y": {"field": "res", "type": "quantitative", "scale": {"domain": [-0.5, 0.5], "nice": false, "zero": false}, "axis": {"values": [-0.4, -0.2, 0, 0.2, 0.4], "labels": false, "title": null}}
      },
      "layer": [
        {"data": {"name": "ci2_co7_res"}, "mark": {"type": "circle", "size": 16, "color": "#000", "opacity": 0.45}},
        {"data": {"name": "zero"}, "mark": {"type": "line", "color": "#000", "strokeWidth": 1, "strokeDash": [3.7, 1.6], "clip": true}}
      ]
    },
    {
      "width": 213, "height": 134,
      "encoding": {
        "x": {"field": "co", "type": "quantitative", "scale": {"domain": [-10.285, -8.197], "nice": false, "zero": false}, "axis": null},
        "y": {"field": "ci", "type": "quantitative", "scale": {"domain": [-10.369, -8.312], "nice": false, "zero": false}, "axis": {"values": [-10.301,-10.2218,-10.1549,-10.0969,-10.0458,-10,-9.699,-9.5229,-9.3979,-9.301,-9.2218,-9.1549,-9.0969,-9.0458,-9,-8.699,-8.5229,-8.3979], "labelExpr": "datum.value == -10 ? '10⁻¹⁰' : datum.value == -9 ? '10⁻⁹' : ''", "tickSize": {"condition": {"test": "datum.value == -10 || datum.value == -9", "value": 3.5}, "value": 2}, "title": "I([CI]₁) [W m⁻² sr⁻¹]", "titlePadding": 2}}
      },
      "layer": [
        {"data": {"name": "ci1_co5_xlim"}, "mark": {"type": "point", "shape": "M0,0H-1.6M-2.2,0L-1.4,-0.45L-1.4,0.45Z", "filled": true, "size": 120, "fill": "#008000", "stroke": "#008000", "strokeWidth": 1, "opacity": 0.45}},
        {"data": {"name": "ci1_co5_det"}, "mark": {"type": "circle", "size": 16, "color": "#000", "opacity": 0.45}},
        {"data": {"name": "ci1_co5_ylim"}, "mark": {"type": "point", "shape": "M0,0V1.6M0,2.2L-0.45,1.4L0.45,1.4Z", "filled": true, "size": 100, "fill": "#0000ff", "stroke": "#0000ff", "strokeWidth": 1, "opacity": 0.5}},
        {"data": {"name": "ci1_co5_fit"}, "mark": {"type": "line", "color": "#000", "strokeWidth": 1, "strokeDash": [3.7, 1.6], "clip": true}},
        {"data": {"name": "one_to_one"}, "mark": {"type": "line", "color": "#000", "strokeWidth": 0.9, "strokeDash": [1, 1.65], "clip": true}},
        {"data": {"name": "ci1_co5_xerr"}, "mark": {"type": "errorbar", "ticks": {"size": 4}, "color": "#000", "thickness": 1.2}, "encoding": {"x2": {"field": "co_end"}}},
        {"data": {"name": "ci1_co5_yerr"}, "mark": {"type": "errorbar", "ticks": {"size": 4}, "color": "#000", "thickness": 1.2}, "encoding": {"y2": {"field": "ci_end"}}}
      ]
    },
    {
      "width": 213, "height": 134,
      "encoding": {
        "x": {"field": "co", "type": "quantitative", "scale": {"domain": [-10.431, -8.247], "nice": false, "zero": false}, "axis": null},
        "y": {"field": "ci", "type": "quantitative", "scale": {"domain": [-10.369, -8.312], "nice": false, "zero": false}, "axis": {"values": [-10.301,-10.2218,-10.1549,-10.0969,-10.0458,-10,-9.699,-9.5229,-9.3979,-9.301,-9.2218,-9.1549,-9.0969,-9.0458,-9,-8.699,-8.5229,-8.3979], "labels": false, "tickSize": {"condition": {"test": "datum.value == -10 || datum.value == -9", "value": 3.5}, "value": 2}, "title": null}}
      },
      "layer": [
        {"data": {"name": "ci1_co6_xlim"}, "mark": {"type": "point", "shape": "M0,0H-1.6M-2.2,0L-1.4,-0.45L-1.4,0.45Z", "filled": true, "size": 120, "fill": "#008000", "stroke": "#008000", "strokeWidth": 1, "opacity": 0.45}},
        {"data": {"name": "ci1_co6_det"}, "mark": {"type": "circle", "size": 16, "color": "#000", "opacity": 0.45}},
        {"data": {"name": "ci1_co6_ylim"}, "mark": {"type": "point", "shape": "M0,0V1.6M0,2.2L-0.45,1.4L0.45,1.4Z", "filled": true, "size": 100, "fill": "#0000ff", "stroke": "#0000ff", "strokeWidth": 1, "opacity": 0.5}},
        {"data": {"name": "ci1_co6_fit"}, "mark": {"type": "line", "color": "#000", "strokeWidth": 1, "strokeDash": [3.7, 1.6], "clip": true}},
        {"data": {"name": "one_to_one"}, "mark": {"type": "line", "color": "#000", "strokeWidth": 0.9, "strokeDash": [1, 1.65], "clip": true}},
        {"data": {"name": "ci1_co6_xerr"}, "mark": {"type": "errorbar", "ticks": {"size": 4}, "color": "#000", "thickness": 1.2}, "encoding": {"x2": {"field": "co_end"}}},
        {"data": {"name": "ci1_co6_yerr"}, "mark": {"type": "errorbar", "ticks": {"size": 4}, "color": "#000", "thickness": 1.2}, "encoding": {"y2": {"field": "ci_end"}}}
      ]
    },
    {
      "width": 213, "height": 134,
      "encoding": {
        "x": {"field": "co", "type": "quantitative", "scale": {"domain": [-10.579, -8.461], "nice": false, "zero": false}, "axis": null},
        "y": {"field": "ci", "type": "quantitative", "scale": {"domain": [-10.369, -8.312], "nice": false, "zero": false}, "axis": {"values": [-10.301,-10.2218,-10.1549,-10.0969,-10.0458,-10,-9.699,-9.5229,-9.3979,-9.301,-9.2218,-9.1549,-9.0969,-9.0458,-9,-8.699,-8.5229,-8.3979], "labels": false, "tickSize": {"condition": {"test": "datum.value == -10 || datum.value == -9", "value": 3.5}, "value": 2}, "title": null}}
      },
      "layer": [
        {"data": {"name": "ci1_co7_xlim"}, "mark": {"type": "point", "shape": "M0,0H-1.6M-2.2,0L-1.4,-0.45L-1.4,0.45Z", "filled": true, "size": 120, "fill": "#008000", "stroke": "#008000", "strokeWidth": 1, "opacity": 0.45}},
        {"data": {"name": "ci1_co7_det"}, "mark": {"type": "circle", "size": 16, "color": "#000", "opacity": 0.45}},
        {"data": {"name": "ci1_co7_ylim"}, "mark": {"type": "point", "shape": "M0,0V1.6M0,2.2L-0.45,1.4L0.45,1.4Z", "filled": true, "size": 100, "fill": "#0000ff", "stroke": "#0000ff", "strokeWidth": 1, "opacity": 0.5}},
        {"data": {"name": "ci1_co7_fit"}, "mark": {"type": "line", "color": "#000", "strokeWidth": 1, "strokeDash": [3.7, 1.6], "clip": true}},
        {"data": {"name": "one_to_one"}, "mark": {"type": "line", "color": "#000", "strokeWidth": 0.9, "strokeDash": [1, 1.65], "clip": true}},
        {"data": {"name": "ci1_co7_xerr"}, "mark": {"type": "errorbar", "ticks": {"size": 4}, "color": "#000", "thickness": 1.2}, "encoding": {"x2": {"field": "co_end"}}},
        {"data": {"name": "ci1_co7_yerr"}, "mark": {"type": "errorbar", "ticks": {"size": 4}, "color": "#000", "thickness": 1.2}, "encoding": {"y2": {"field": "ci_end"}}}
      ]
    },
    {
      "width": 213, "height": 134,
      "encoding": {
        "x": {"field": "co", "type": "quantitative", "scale": {"domain": [-10.285, -8.197], "nice": false, "zero": false}, "axis": {"values": [-10.2218,-10.1549,-10.0969,-10.0458,-10,-9.699,-9.5229,-9.3979,-9.301,-9.2218,-9.1549,-9.0969,-9.0458,-9,-8.699,-8.5229,-8.3979,-8.301,-8.2218], "labelExpr": "datum.value == -10 ? '10⁻¹⁰' : datum.value == -9 ? '10⁻⁹' : ''", "tickSize": {"condition": {"test": "datum.value == -10 || datum.value == -9", "value": 3.5}, "value": 2}, "title": ["I(CO₅)", "[W m⁻² sr⁻¹]"], "titlePadding": 5}},
        "y": {"field": "res", "type": "quantitative", "scale": {"domain": [-0.5, 0.5], "nice": false, "zero": false}, "axis": {"values": [-0.4, -0.2, 0, 0.2, 0.4], "format": ".1f", "title": "I([CI]₁) residuals [dex]", "titlePadding": 8}}
      },
      "layer": [
        {"data": {"name": "ci1_co5_res"}, "mark": {"type": "circle", "size": 16, "color": "#000", "opacity": 0.45}},
        {"data": {"name": "zero"}, "mark": {"type": "line", "color": "#000", "strokeWidth": 1, "strokeDash": [3.7, 1.6], "clip": true}}
      ]
    },
    {
      "width": 213, "height": 134,
      "encoding": {
        "x": {"field": "co", "type": "quantitative", "scale": {"domain": [-10.431, -8.247], "nice": false, "zero": false}, "axis": {"values": [-10.3979,-10.301,-10.2218,-10.1549,-10.0969,-10.0458,-10,-9.699,-9.5229,-9.3979,-9.301,-9.2218,-9.1549,-9.0969,-9.0458,-9,-8.699,-8.5229,-8.3979,-8.301], "labelExpr": "datum.value == -10 ? '10⁻¹⁰' : datum.value == -9 ? '10⁻⁹' : ''", "tickSize": {"condition": {"test": "datum.value == -10 || datum.value == -9", "value": 3.5}, "value": 2}, "title": ["I(CO₆)", "[W m⁻² sr⁻¹]"], "titlePadding": 5}},
        "y": {"field": "res", "type": "quantitative", "scale": {"domain": [-0.5, 0.5], "nice": false, "zero": false}, "axis": {"values": [-0.4, -0.2, 0, 0.2, 0.4], "labels": false, "title": null}}
      },
      "layer": [
        {"data": {"name": "ci1_co6_res"}, "mark": {"type": "circle", "size": 16, "color": "#000", "opacity": 0.45}},
        {"data": {"name": "zero"}, "mark": {"type": "line", "color": "#000", "strokeWidth": 1, "strokeDash": [3.7, 1.6], "clip": true}}
      ]
    },
    {
      "width": 213, "height": 134,
      "encoding": {
        "x": {"field": "co", "type": "quantitative", "scale": {"domain": [-10.579, -8.461], "nice": false, "zero": false}, "axis": {"values": [-10.5229,-10.3979,-10.301,-10.2218,-10.1549,-10.0969,-10.0458,-10,-9.699,-9.5229,-9.3979,-9.301,-9.2218,-9.1549,-9.0969,-9.0458,-9,-8.699,-8.5229], "labelExpr": "datum.value == -10 ? '10⁻¹⁰' : datum.value == -9 ? '10⁻⁹' : ''", "tickSize": {"condition": {"test": "datum.value == -10 || datum.value == -9", "value": 3.5}, "value": 2}, "title": ["I(CO₇)", "[W m⁻² sr⁻¹]"], "titlePadding": 5}},
        "y": {"field": "res", "type": "quantitative", "scale": {"domain": [-0.5, 0.5], "nice": false, "zero": false}, "axis": {"values": [-0.4, -0.2, 0, 0.2, 0.4], "labels": false, "title": null}}
      },
      "layer": [
        {"data": {"name": "ci1_co7_res"}, "mark": {"type": "circle", "size": 16, "color": "#000", "opacity": 0.45}},
        {"data": {"name": "zero"}, "mark": {"type": "line", "color": "#000", "strokeWidth": 1, "strokeDash": [3.7, 1.6], "clip": true}}
      ]
    }
  ]
}
